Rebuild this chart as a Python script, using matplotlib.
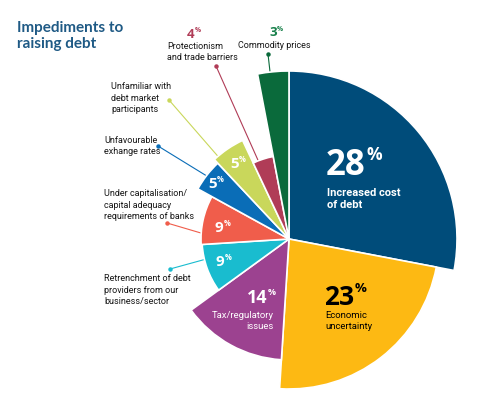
import numpy as np
import matplotlib
matplotlib.use("Agg")
import matplotlib.pyplot as plt
from matplotlib.patches import Wedge

# data
names = ["Increased cost\nof debt", "Economic\nuncertainty", "Tax/regulatory\nissues",
         "Retrenchment of debt\nproviders from our\nbusiness/sector",
         "Under capitalisation/\ncapital adequacy\nrequirements of banks",
         "Unfavourable\nexhange rates", "Unfamiliar with\ndebt market\nparticipants",
         "Protectionism\nand trade barriers", "Commodity prices"]
values = [28, 23, 14, 9, 9, 5, 5, 4, 3]
radius = [168, 150, 121, 87, 88, 104, 109, 84, 168]
colors = ["#004c7a", "#fdb913", "#9c4290", "#19bccf", "#f05d4b",
          "#0a6db7", "#c9d75b", "#b03c57", "#0a6a3b"]
# where the leader line meets each small slice (fraction of its sweep)
lead_at = {3: 0.69, 4: 0.23, 5: 0.48, 6: 0.14, 7: 0.26, 8: 0.4}

fig = plt.figure(figsize=(4.78, 4.11), dpi=100)
ax = fig.add_axes([0, 0, 1, 1])
ax.set_xlim(0, 478)
ax.set_ylim(411, 0)
ax.axis("off")

cx, cy = 289, 239
lab_font = ["Liberation Sans Narrow", "Roboto", "DejaVu Sans"]
big_font = ["Open Sans", "DejaVu Sans"]
ink = "#161616"

ends = np.cumsum(values) / 100 * 360
starts = ends - np.array(values) / 100 * 360
for s, e, r, c in zip(starts, ends, radius, colors):
    # clockwise from 12 o'clock, y axis pointing down
    ax.add_patch(Wedge((cx, cy), r, s - 90, e - 90, facecolor=c,
                       edgecolor="white", linewidth=1.2, zorder=3))


def pct(x, y, n, size, color, ha="left"):
    t = ax.text(x, y, str(n), fontsize=size, fontweight="bold", color=color,
                family=big_font, ha=ha, va="center", zorder=5)
    ax.annotate("%", xy=(1, 0.8), xycoords=t, xytext=(0.4, 0),
                textcoords="offset points", fontsize=size * 0.5,
                fontweight="bold", color=color, family=big_font,
                ha="left", va="center", zorder=5)
    return t


def leader(i, x, y):
    a = np.radians(starts[i] + lead_at[i] * (ends[i] - starts[i]))
    ex, ey = cx + radius[i] * np.sin(a), cy - radius[i] * np.cos(a)
    ax.plot([x, ex], [y, ey], color=colors[i], lw=0.8, zorder=2)
    ax.plot(x, y, "o", ms=2.2, color=colors[i], zorder=2)


# big in-slice labels
pct(326, 166, values[0], 25, "white")
ax.text(327, 199, names[0], fontsize=8, color="white", family=lab_font,
        fontweight="bold", va="center", linespacing=1.25, zorder=5)
pct(324, 297, values[1], 19, "black")
ax.text(325, 321, names[1], fontsize=6.8, color="black", family=lab_font,
        va="center", linespacing=1.25, zorder=5)
pct(247, 298, values[2], 13, "white")
ax.text(274, 321, names[2], fontsize=6.8, color="white", family=lab_font,
        ha="right", va="center", linespacing=1.25, zorder=5)
pct(216, 262, values[3], 11, "white")
pct(215, 228, values[4], 11, "white")
pct(208, 184, values[5], 11, "white")
pct(230, 164, values[6], 11, "white")

# outside labels with leader lines
outside = [
    (3, 104, 290, 170, 269),
    (4, 104, 205, 167, 223),
    (5, 104, 146, 158, 146),
    (6, 111, 98, 169, 100),
]
for i, tx, ty, dx, dy in outside:
    ax.text(tx, ty, names[i], fontsize=6.5, family=lab_font, color=ink,
            va="center", linespacing=1.3)
    leader(i, dx, dy)

# protectionism
ax.text(167, 52, names[7], fontsize=6.5, family=lab_font, color=ink,
        va="center", linespacing=1.3)
pct(187, 34, values[7], 9.5, colors[7])
leader(7, 216, 66)

# commodity prices
ax.text(274, 46, names[8], fontsize=6.5, family=lab_font, color=ink,
        ha="center", va="center")
pct(269, 33, values[8], 9.5, "#17804a")
leader(8, 268, 54)

ax.text(17, 36, "Impediments to\nraising debt", fontsize=11, fontweight="bold",
        color="#1f5a85", family=["Lato", "DejaVu Sans"], va="center",
        linespacing=1.1)

fig.savefig("out.png", dpi=100)
